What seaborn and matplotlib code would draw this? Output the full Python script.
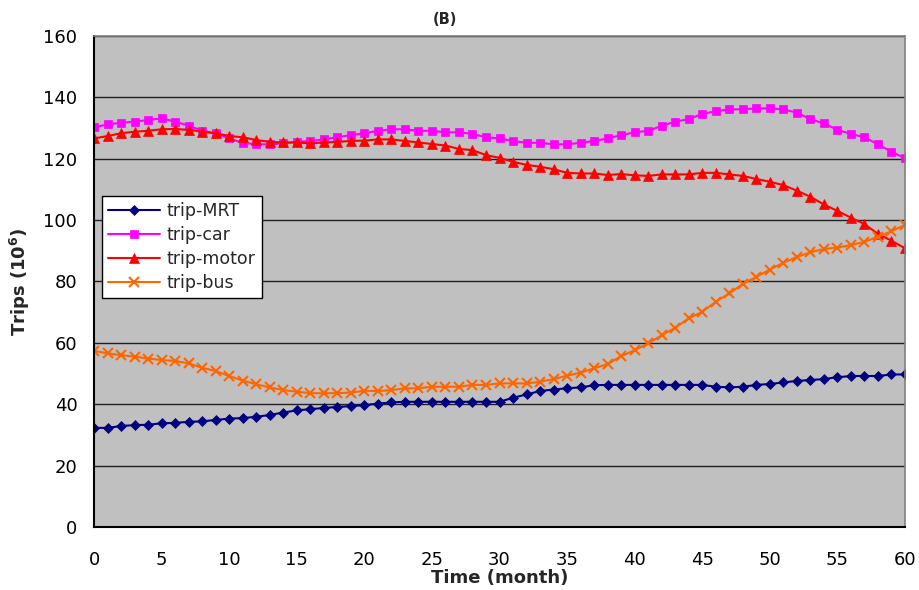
import pandas as pd
import matplotlib
matplotlib.use("Agg")
import matplotlib.pyplot as plt
import seaborn as sns

# -------------------------------
# Data
# -------------------------------
months = list(range(61))

trip_mrt = [32.3, 32.3, 32.9, 33.2, 33.3, 33.8, 33.9, 34.3, 34.4, 34.9, 35.3,
            35.5, 35.9, 36.5, 37.3, 38.0, 38.4, 38.8, 39.1, 39.4, 39.7,
            40.2, 40.6, 40.8, 40.8, 40.8, 40.8, 40.8, 40.8, 40.8, 40.8,
            42.1, 43.2, 44.3, 44.8, 45.2, 45.5, 46.2, 46.3, 46.3, 46.3,
            46.3, 46.3, 46.3, 46.3, 46.3, 45.7, 45.5, 45.7, 46.3, 46.6,
            47.1, 47.6, 47.9, 48.2, 48.8, 49.2, 49.2, 49.2, 49.7, 49.7]

trip_car = [130.2, 131.2, 131.7, 132.1, 132.6, 133.2, 132.1, 130.8, 129.1, 128.3, 126.6,
            125.2, 124.7, 124.7, 125.0, 125.5, 125.8, 126.3, 127.0, 127.7, 128.3,
            129.1, 129.6, 129.6, 129.1, 129.1, 128.6, 128.6, 128.1, 127.0, 126.6,
            125.8, 125.2, 125.2, 124.7, 124.7, 125.2, 125.8, 126.6, 127.7, 128.6,
            129.1, 130.7, 132.1, 132.9, 134.6, 135.5, 136.1, 136.1, 136.4, 136.4,
            136.1, 135.0, 132.9, 131.5, 129.4, 128.1, 127.0, 124.7, 122.3, 120.1]

trip_motor = [126.6, 127.4, 128.3, 128.8, 129.1, 129.6, 129.7, 129.4, 128.8, 128.3, 127.4,
              127.0, 126.1, 125.5, 125.3, 125.3, 125.0, 125.3, 125.5, 125.8, 125.9,
              126.3, 126.3, 125.8, 125.3, 124.8, 124.3, 123.2, 122.8, 121.2, 120.3,
              119.0, 118.0, 117.4, 116.6, 115.4, 115.2, 115.2, 114.7, 115.0, 114.6,
              114.4, 114.9, 114.9, 114.9, 115.4, 115.4, 114.9, 114.4, 113.4, 112.5,
              111.4, 109.6, 107.6, 105.1, 103.0, 100.8, 98.7, 95.5, 93.3, 90.8]

trip_bus = [57.4, 56.6, 56.0, 55.5, 54.9, 54.4, 54.1, 53.3, 51.9, 50.8, 49.2,
            47.7, 46.5, 45.5, 44.6, 44.1, 43.6, 43.6, 43.6, 43.8, 44.4,
            44.3, 44.6, 45.2, 45.2, 45.7, 45.7, 45.7, 46.3, 46.3, 46.8,
            46.8, 46.8, 47.3, 48.2, 49.3, 50.3, 51.7, 53.1, 55.7, 57.6,
            59.8, 62.5, 64.9, 68.0, 70.1, 73.4, 76.1, 79.2, 81.5, 83.9,
            86.1, 88.0, 89.5, 90.6, 91.0, 91.9, 92.9, 94.6, 96.4, 98.4]

series = {
    "trip-MRT": trip_mrt,
    "trip-car": trip_car,
    "trip-motor": trip_motor,
    "trip-bus": trip_bus,
}

df = pd.DataFrame({"month": months, **series})
df = df.melt(id_vars="month", var_name="mode", value_name="trips")

styles = {
    "trip-MRT": dict(color="#000080", marker="D", ms=5.5),
    "trip-car": dict(color="#FF00FF", marker="s", ms=6),
    "trip-motor": dict(color="#FF0000", marker="^", ms=7.5),
    "trip-bus": dict(color="#FF6600", marker="x", ms=7),
}

# -------------------------------
# Plot
# -------------------------------
sns.set_style("white")
plt.rcParams["font.family"] = ["DejaVu Sans"]

fig = plt.figure(figsize=(9.2, 5.9), dpi=100)
ax = fig.add_axes([0.1022, 0.1068, 0.8815, 0.8322])
ax.set_facecolor("#C0C0C0")

for name, st in styles.items():
    sub = df[df["mode"] == name]
    sns.lineplot(data=sub, x="month", y="trips", ax=ax, label=name,
                 color=st["color"], marker=st["marker"], markersize=st["ms"],
                 markeredgecolor=st["color"], markeredgewidth=1.5 if st["marker"] == "x" else 0.5,
                 linewidth=1.5)

ax.set_xlim(0, 60)
ax.set_ylim(0, 160)
ax.set_xticks(range(0, 61, 5))
ax.set_yticks(range(0, 161, 20))
ax.yaxis.grid(True, color="#202020", linewidth=1)
ax.xaxis.grid(False)
ax.set_axisbelow(True)

ax.tick_params(axis="both", direction="in", length=5, labelsize=13, colors="black")
ax.tick_params(axis="x", pad=17)
ax.tick_params(axis="y", pad=12)

for side in ["left", "bottom"]:
    ax.spines[side].set_color("black")
    ax.spines[side].set_linewidth(1.5)
for side in ["top", "right"]:
    ax.spines[side].set_color("#808080")
    ax.spines[side].set_linewidth(1.2)

ax.set_xlabel("Time (month)", fontsize=13, fontweight="bold", labelpad=0)
ax.set_ylabel(r"Trips (10$^{\mathbf{6}}$)", fontsize=13, fontweight="bold", labelpad=8)

leg = ax.legend(loc="upper left", bbox_to_anchor=(0.0095, 0.675), fontsize=12.5,
                frameon=True, fancybox=False, framealpha=1, edgecolor="black",
                handlelength=3.0, handletextpad=0.4, labelspacing=0.35,
                borderpad=0.35, borderaxespad=0)
leg.get_frame().set_linewidth(1)

fig.text(445 / 920, 1 - 19 / 590, "(B)", ha="center", va="center",
         fontsize=10.5, fontweight="bold")

fig.savefig("out.png", dpi=100, facecolor="white")
